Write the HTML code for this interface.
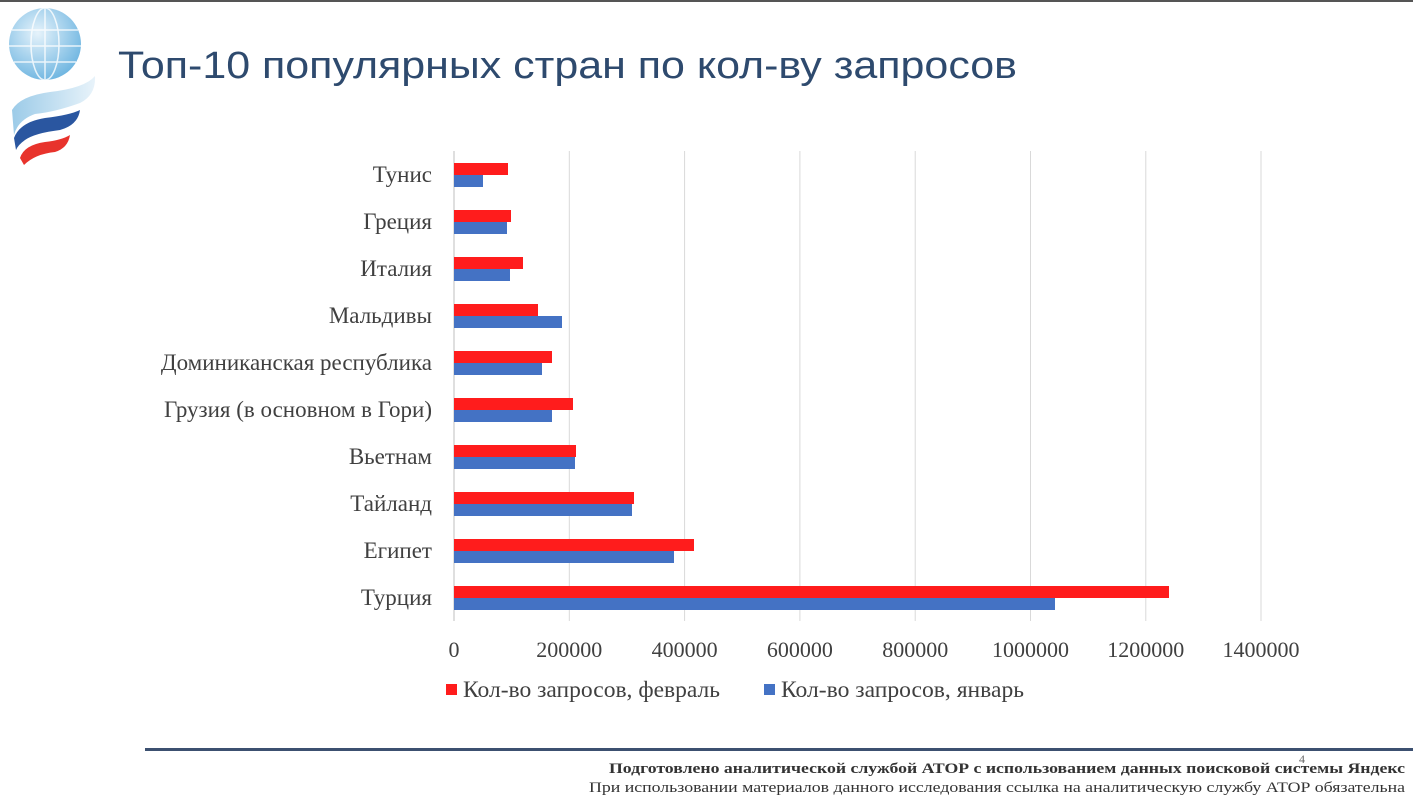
<!DOCTYPE html>
<html><head><meta charset="utf-8"><style>html,body{margin:0;padding:0;background:#fff}svg{display:block}</style></head><body>
<svg width="1413" height="795" viewBox="0 0 1413 795" xmlns="http://www.w3.org/2000/svg">
<defs>
<radialGradient id="g" cx="0.4" cy="0.35" r="0.7"><stop offset="0" stop-color="#e6f3fb"/><stop offset="1" stop-color="#6cb4e0"/></radialGradient>
<linearGradient id="w" x1="0" x2="1"><stop offset="0" stop-color="#9ccbe8"/><stop offset="1" stop-color="#e8f3fa"/></linearGradient>
</defs>
<rect x="0" y="0" width="1413" height="2" fill="#555"/>
<circle cx="45" cy="44" r="36" fill="url(#g)"/>
<g stroke="#fff" stroke-width="1.5" fill="none" opacity="0.8">
<ellipse cx="45" cy="44" rx="14" ry="36"/><line x1="45" y1="8" x2="45" y2="80"/><line x1="12" y1="30" x2="78" y2="30"/><line x1="9" y1="46" x2="81" y2="46"/><line x1="14" y1="62" x2="76" y2="62"/>
</g>
<path d="M12 110 Q20 96 50 92 Q85 88 95 76 Q96 95 80 103 Q55 112 35 114 Q18 120 14 135 Z" fill="url(#w)"/>
<path d="M14 138 Q20 122 45 118 Q70 115 80 110 Q78 125 60 130 Q35 133 25 140 Q18 145 16 150 Z" fill="#2a56a0"/>
<path d="M20 158 Q24 145 45 142 Q62 140 70 135 Q68 148 55 152 Q35 154 24 165 Z" fill="#e8332c"/>
<text x="118" y="78" font-family="Liberation Sans, sans-serif" font-size="38" fill="#2e4a6e" textLength="899" lengthAdjust="spacingAndGlyphs">Топ-10 популярных стран по кол-ву запросов</text>
<g stroke="#d9d9d9" stroke-width="1">
<line x1="569.3" y1="151" x2="569.3" y2="621"/><line x1="684.6" y1="151" x2="684.6" y2="621"/><line x1="799.9" y1="151" x2="799.9" y2="621"/><line x1="915.2" y1="151" x2="915.2" y2="621"/><line x1="1030.5" y1="151" x2="1030.5" y2="621"/><line x1="1145.8" y1="151" x2="1145.8" y2="621"/><line x1="1261" y1="151" x2="1261" y2="621"/>
</g>
<line x1="454" y1="151" x2="454" y2="621" stroke="#bfbfbf"/>
<g font-family="Liberation Serif, serif" font-size="23" fill="#404040" text-anchor="end">
<text x="432" y="182">Тунис</text><text x="432" y="229">Греция</text><text x="432" y="276">Италия</text><text x="432" y="323">Мальдивы</text><text x="432" y="370">Доминиканская республика</text><text x="432" y="417">Грузия (в основном в Гори)</text><text x="432" y="464">Вьетнам</text><text x="432" y="511">Тайланд</text><text x="432" y="558">Египет</text><text x="432" y="605">Турция</text>
</g>
<g fill="#ff1c1c">
<rect x="454" y="163" width="54" height="12"/><rect x="454" y="210" width="57" height="12"/><rect x="454" y="257" width="69" height="12"/><rect x="454" y="304" width="84" height="12"/><rect x="454" y="351" width="98" height="12"/><rect x="454" y="398" width="119" height="12"/><rect x="454" y="445" width="122" height="12"/><rect x="454" y="492" width="180" height="12"/><rect x="454" y="539" width="240" height="12"/><rect x="454" y="586" width="715" height="12"/>
</g>
<g fill="#4472c4">
<rect x="454" y="175" width="29" height="12"/><rect x="454" y="222" width="53" height="12"/><rect x="454" y="269" width="56" height="12"/><rect x="454" y="316" width="108" height="12"/><rect x="454" y="363" width="88" height="12"/><rect x="454" y="410" width="98" height="12"/><rect x="454" y="457" width="121" height="12"/><rect x="454" y="504" width="178" height="12"/><rect x="454" y="551" width="220" height="12"/><rect x="454" y="598" width="601" height="12"/>
</g>
<g font-family="Liberation Serif, serif" font-size="22" fill="#404040" text-anchor="middle">
<text x="454" y="657">0</text><text x="569.3" y="657">200000</text><text x="684.6" y="657">400000</text><text x="799.9" y="657">600000</text><text x="915.2" y="657">800000</text><text x="1030.5" y="657">1000000</text><text x="1145.8" y="657">1200000</text><text x="1261" y="657">1400000</text>
</g>
<rect x="446" y="684" width="11" height="11" fill="#ff1c1c"/>
<text x="463" y="697" font-family="Liberation Serif, serif" font-size="23" fill="#404040" textLength="257" lengthAdjust="spacingAndGlyphs">Кол-во запросов, февраль</text>
<rect x="764" y="684" width="11" height="11" fill="#4472c4"/>
<text x="781" y="697" font-family="Liberation Serif, serif" font-size="23" fill="#404040" textLength="243" lengthAdjust="spacingAndGlyphs">Кол-во запросов, январь</text>
<rect x="145" y="748" width="1268" height="3" fill="#3c5070"/>
<text x="1299" y="763" font-family="Liberation Serif, serif" font-size="12" fill="#666">4</text>
<text x="1405" y="773" text-anchor="end" font-family="Liberation Serif, serif" font-size="15" font-weight="bold" fill="#333" textLength="796" lengthAdjust="spacingAndGlyphs">Подготовлено аналитической службой АТОР с использованием данных поисковой системы Яндекс</text>
<text x="1405" y="792" text-anchor="end" font-family="Liberation Serif, serif" font-size="15" fill="#333" textLength="816" lengthAdjust="spacingAndGlyphs">При использовании материалов данного исследования ссылка на аналитическую службу АТОР обязательна</text>
</svg>
</body></html>
